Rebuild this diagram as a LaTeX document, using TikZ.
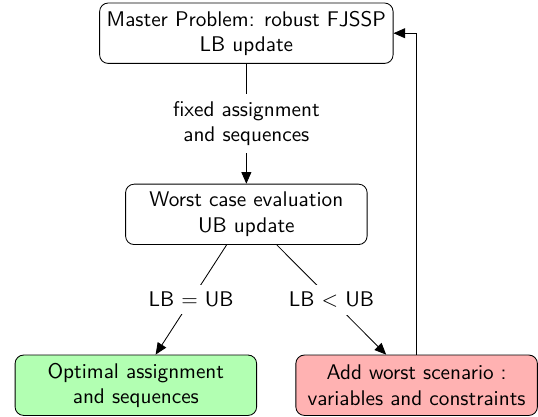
\documentclass[tikz,border=0pt]{standalone}
\usepackage{amsmath}
\usetikzlibrary{arrows.meta}
\tikzset{
  block/.style={draw, rounded corners, align=center, minimum height=1cm, minimum width=4cm},
  cond/.style={fill=white, align=center}
}

\begin{document}
\begin{tikzpicture}[font=\sffamily, >={Triangle[length=5.5pt, width=4.7pt]}]
	% Picture frame
	\useasboundingbox (0,0) rectangle (8.91,-6.89);
	
	% Blocks
	\node[block] (master) at (4.08,-0.55) {Master Problem: robust FJSSP\\LB update};
	\node[block] (worst) at (4.08,-3.55) {Worst case evaluation\\UB update};
	\node[block, fill=green!30] (optimal) at (2.25,-6.38) {Optimal assignment\\and sequences};
	\node[block, fill=red!30] (scenario) at (6.90,-6.38) {Add worst scenario :\\variables and constraints};
	
	% Connectors
	\draw[->] (master) -- node[cond] {fixed assignment\\and sequences} (worst);
	\draw[->] (worst) -- node[cond] {LB $=$ UB} (optimal);
	\draw[->] (worst) -- node[cond] {LB $<$ UB} (scenario);
	
	% Loop back to the master problem
	\draw[->] (scenario.north) |- (master.east);
\end{tikzpicture}
\end{document}
